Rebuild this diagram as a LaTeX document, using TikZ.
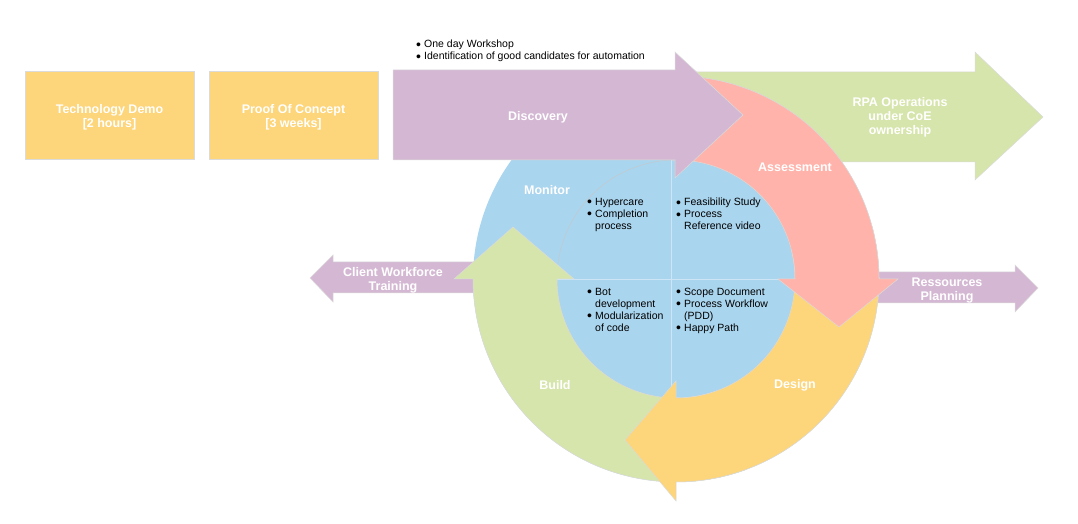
\documentclass[tikz,border=0pt]{standalone}
\usepackage{fontspec}
\setmainfont{Liberation Sans}
\usepackage{tikz}
\usetikzlibrary{positioning}

\definecolor{demoyellow}{RGB}{253,213,122}
\definecolor{lilac}{RGB}{212,184,211}
\definecolor{salmon}{RGB}{255,179,171}
\definecolor{opsgreen}{RGB}{214,229,171}
\definecolor{monitorblue}{RGB}{170,213,238}
\definecolor{quadline}{RGB}{205,229,245}

\tikzset{
  edge/.style={draw=black!14, line width=0.5pt},
  phasebox/.style={fill=demoyellow, edge, minimum width=169pt, minimum height=88pt, inner sep=0pt},
  phaselabel/.style={text=white, align=center, inner sep=0pt, yshift=-2.5pt,
    font=\bfseries\fontsize{12.5}{14}\selectfont},
  bulletlist/.style={anchor=north west, inner sep=0pt, align=left,
    font=\fontsize{10.5}{12}\selectfont},
  hub/.style={shift={(676,245)}}
}
\newcommand{\bul}{\makebox[8pt][l]{\raisebox{-1.3pt}{\fontsize{14}{12}\selectfont\textbullet}}}
\newcommand{\bulind}{\hspace*{8pt}}

\begin{document}
\begin{tikzpicture}[x=1pt,y=1pt]
  \useasboundingbox (0,0) rectangle (1078,524);

  % early phases
  \node[phasebox] (demo) at (109.5,409) {};
  \node[phasebox] (poc) at (293.5,409) {};

  % side arrows
  \fill[opsgreen, edge] (690,362) -- (690,452) -- (975,452) -- (975,472) -- (1043,407) -- (975,344) -- (975,362) -- cycle;
  \fill[lilac, edge] (860,221) -- (860,252) -- (1015,252) -- (1015,259) -- (1038,236) -- (1015,212) -- (1015,221) -- cycle;
  \fill[lilac, edge] (475,231) -- (475,262) -- (333,262) -- (333,269) -- (310,246) -- (333,222) -- (333,231) -- cycle;

  % cycle
  \begin{scope}[hub]
    \fill[monitorblue] (0,0) circle[radius=203];
    \draw[black!22] (0,0) circle[radius=119];
    \draw[quadline, line width=0.8pt] (-5,-119) -- (-5,119);
    \draw[quadline, line width=0.8pt] (-119,0) -- (119,0);
    \fill[opsgreen, edge] (290:203) arc[start angle=290, end angle=180, radius=203]
      -- (180:222) -- (-163,52) -- (180:102) -- (180:119)
      arc[start angle=180, end angle=290, radius=119] -- cycle;
    \fill[demoyellow, edge] (15:203) arc[start angle=15, end angle=-90, radius=203]
      -- (-90:222) -- (-51,-161) -- (-90:102) -- (-90:119)
      arc[start angle=-90, end angle=15, radius=119] -- cycle;
    \fill[salmon, edge] (92:203) arc[start angle=92, end angle=0, radius=203]
      -- (0:222) -- (163,-48) -- (0:102) -- (0:119)
      arc[start angle=0, end angle=92, radius=119] -- cycle;
  \end{scope}

  \fill[lilac, edge] (393,364) -- (393,454) -- (675,454) -- (675,472) -- (743,409) -- (675,346) -- (675,364) -- cycle;

  % labels
  \node[phaselabel] (demotext) at (demo.center) {Technology Demo\\{[2 hours]}};
  \node[phaselabel] (poctext) at (poc.center) {Proof Of Concept\\{[3 weeks]}};
  \node[phaselabel] (discovery) at (538,409) {Discovery};
  \node[phaselabel] (ops) at (900,409) {RPA Operations\\under CoE\\ownership};
  \node[phaselabel] (training) at (393,246) {Client Workforce\\Training};
  \node[phaselabel] (planning) at (947,236) {Ressources\\Planning};
  \node[phaselabel] (monitor) at (547,336) {Monitor};
  \node[phaselabel] (assess) at (795,359) {Assessment};
  \node[phaselabel] (build) at (555,141) {Build};
  \node[phaselabel] (design) at (795,141) {Design};

  % bullet texts
  \node[bulletlist] (workshop) at (416,484) {\bul One day Workshop\\\bul Identification of good candidates for automation};
  \node[bulletlist] (monitornotes) at (587,326) {\bul Hypercare\\\bul Completion\\\bulind process};
  \node[bulletlist] (assessnotes) at (676,326) {\bul Feasibility Study\\\bul Process\\\bulind Reference video};
  \node[bulletlist] (buildnotes) at (587,236) {\bul Bot\\\bulind development\\\bul Modularization\\\bulind of code};
  \node[bulletlist] (designnotes) at (676,236) {\bul Scope Document\\\bul Process Workflow\\\bulind (PDD)\\\bul Happy Path};
\end{tikzpicture}
\end{document}
